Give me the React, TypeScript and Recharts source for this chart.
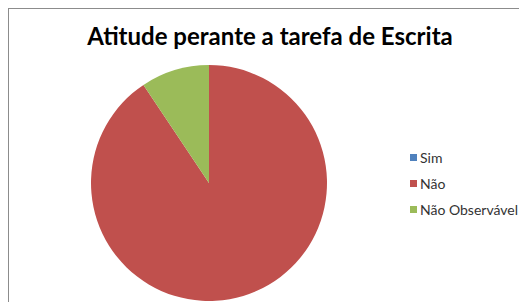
import { Cell, Legend, Pie, PieChart } from "recharts";

const categories = ["Sim", "Não", "Não Observável"];
const counts = [0, 29, 3];
const colors = ["#4F81BD", "#C0504D", "#9BBB59"];

const data = categories.map((name, i) => ({ name, value: counts[i], color: colors[i] }));

function LegendBox(props: any) {
    const items = [...(props.payload || [])].sort(
        (a: any, b: any) => categories.indexOf(a.value) - categories.indexOf(b.value)
    );
    return (
        <div style={{ fontFamily: "Lato, sans-serif", fontSize: 14, color: "#333" }}>
            {items.map((entry: any) => (
                <div key={entry.value} style={{ display: "flex", alignItems: "center", height: 26 }}>
                    <span style={{ width: 7, height: 7, background: entry.color, marginRight: 3, display: "inline-block" }} />
                    <span>{entry.value}</span>
                </div>
            ))}
        </div>
    );
}

export default function App() {
    return (
        <div style={{
            position: "relative",
            width: 518,
            height: 293,
            borderLeft: "1px solid #8c8c8c",
            borderTop: "1px solid #8c8c8c",
            background: "#fff",
        }}>
            <div style={{
                position: "absolute",
                top: 12,
                left: 0,
                width: 522,
                textAlign: "center",
                fontFamily: "Lato, sans-serif",
                fontWeight: 700,
                fontSize: 24,
                color: "#000",
            }}>
                Atitude perante a tarefa de Escrita
            </div>
            <PieChart width={518} height={293}>
                <Pie
                    data={data}
                    nameKey="name"
                    dataKey="value"
                    cx={195}
                    cy={169}
                    outerRadius={118}
                    startAngle={90}
                    endAngle={-270}
                    stroke="none"
                    isAnimationActive={false}
                >
                    {data.map((entry) => (
                        <Cell key={entry.name} fill={entry.color} />
                    ))}
                </Pie>
                <Legend
                    layout="vertical"
                    content={<LegendBox />}
                    wrapperStyle={{ position: "absolute", left: 401, top: 135, width: 130 }}
                />
            </PieChart>
        </div>
    );
}
